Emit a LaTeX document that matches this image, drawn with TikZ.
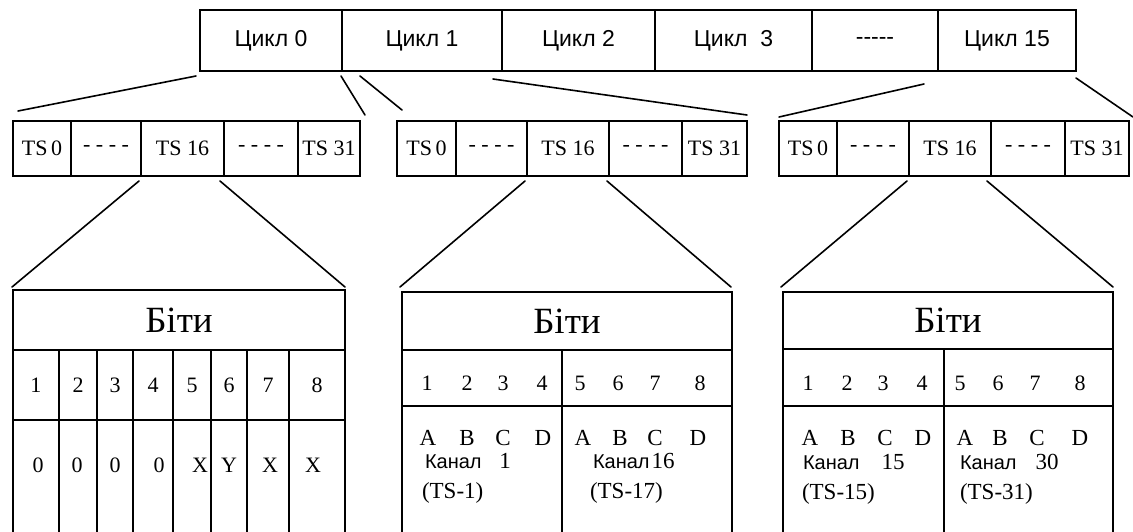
\documentclass[tikz,border=0pt]{standalone}
\usepackage{fontspec}
\setmainfont{Liberation Serif}
\setsansfont{Liberation Sans}
\usetikzlibrary{calc}
\begin{document}
\begin{tikzpicture}[x=1pt,y=-1pt,
  every node/.style={inner sep=0pt, outer sep=0pt},
  cell/.style={draw, line width=1.6pt, anchor=north west, align=center},
  conn/.style={line width=1.6pt, line cap=round},
  cyc/.style={font=\sffamily\fontsize{23}{26}\selectfont},
  ts/.style={font=\fontsize{22}{24}\selectfont},
  big/.style={font=\fontsize{37}{40}\selectfont},
  dig/.style={font=\fontsize{22}{24}\selectfont},
  lab/.style={font=\fontsize{23}{26}\selectfont},
  kan/.style={font=\sffamily\fontsize{20}{22}\selectfont},
  top/.style={cell, cyc, minimum height=61pt},
  mid/.style={cell, ts, minimum height=55pt},
]
\useasboundingbox (0,0) rectangle (1133,531);

% ---- top bar: cycles
\node[top, minimum width=142pt] (c0) at (200,10) {Цикл 0};
\node[top, minimum width=160pt] (c1) at (342,10) {Цикл 1};
\node[top, minimum width=153pt] (c2) at (502,10) {Цикл 2};
\node[top, minimum width=157pt] (c3) at (655,10) {Цикл\ \ 3};
\node[top, minimum width=126pt] (c4) at (812,10) {-{}-{}-{}-{}-};
\node[top, minimum width=138pt] (c5) at (938,10) {Цикл 15};

% ---- middle boxes: time slots
\node[mid, minimum width=58pt] (m1a) at (13,121) {TS\,0};
\node[mid, minimum width=70pt] (m1b) at (71,121) {- - - -};
\node[mid, minimum width=83pt] (m1c) at (141,121) {TS 16};
\node[mid, minimum width=74pt] (m1d) at (224,121) {- - - -};
\node[mid, minimum width=62pt] (m1e) at (298,121) {TS 31};

\node[mid, minimum width=59pt] (m2a) at (397,121) {TS\,0};
\node[mid, minimum width=71pt] (m2b) at (456,121) {- - - -};
\node[mid, minimum width=82pt] (m2c) at (527,121) {TS 16};
\node[mid, minimum width=73pt] (m2d) at (609,121) {- - - -};
\node[mid, minimum width=65pt] (m2e) at (682,121) {TS 31};

\node[mid, minimum width=58pt] (m3a) at (779,121) {TS\,0};
\node[mid, minimum width=72pt] (m3b) at (837,121) {- - - -};
\node[mid, minimum width=82pt] (m3c) at (909,121) {TS 16};
\node[mid, minimum width=74pt] (m3d) at (991,121) {- - - -};
\node[mid, minimum width=64pt] (m3e) at (1065,121) {TS 31};

% ---- connectors top -> middle
\draw[conn] ($(c0.south west)+(-4,5)$) -- ($(m1a.north west)+(5,-10)$);
\draw[conn] ($(c0.south east)+(-1,5)$) -- ($(m1e.north east)+(5,-6)$);
\draw[conn] ($(c1.south west)+(18,5)$) -- ($(m2a.north west)+(5,-11)$);
\draw[conn] ($(c1.south east)+(-9,8)$) -- ($(m2e.north east)+(0,-6)$);
\draw[conn] ($(c4.south east)+(-14,13)$) -- ($(m3a.north west)+(0,-4)$);
\draw[conn] ($(c5.south east)+(0,7)$) -- ($(m3e.north east)+(4,-4)$);

% ---- table 1
\node[cell, big, minimum width=332pt, minimum height=60pt] (t1h) at (13,290) {Біти};
\node[cell, dig, minimum width=46pt, minimum height=70pt] (t1d1) at (13,350) {1};
\node[cell, dig, minimum width=38pt, minimum height=70pt] (t1d2) at (59,350) {2};
\node[cell, dig, minimum width=36pt, minimum height=70pt] (t1d3) at (97,350) {3};
\node[cell, dig, minimum width=40pt, minimum height=70pt] (t1d4) at (133,350) {4};
\node[cell, dig, minimum width=38pt, minimum height=70pt] (t1d5) at (173,350) {5};
\node[cell, dig, minimum width=36pt, minimum height=70pt] (t1d6) at (211,350) {6};
\node[cell, dig, minimum width=42pt, minimum height=70pt] (t1d7) at (247,350) {7};
\node[cell, dig, minimum width=56pt, minimum height=70pt] (t1d8) at (289,350) {8};
\foreach \n in {t1d1,t1d2,t1d3,t1d4,t1d5,t1d6,t1d7,t1d8}
  \draw[conn, line cap=butt] (\n.south west) -- ++(0,112);
\draw[conn, line cap=butt] (t1d8.south east) -- ++(0,112);
\node[dig, anchor=base] (v1) at (38,472) {0};
\node[dig, anchor=base] (v2) at (77,472) {0};
\node[dig, anchor=base] (v3) at (115,472) {0};
\node[dig, anchor=base] (v4) at (159,472) {0};
\node[dig, anchor=base] (v5) at (200,472) {X};
\node[dig, anchor=base] (v6) at (229,472) {Y};
\node[dig, anchor=base] (v7) at (270,472) {X};
\node[dig, anchor=base] (v8) at (313,472) {X};

% ---- table 2
\node[cell, big, minimum width=330pt, minimum height=58pt] (t2h) at (402,292) {Біти};
\node[cell, minimum width=160pt, minimum height=56pt] (t2l) at (402,350) {};
\node[cell, minimum width=170pt, minimum height=56pt] (t2r) at (562,350) {};
\draw[conn, line cap=butt] (t2l.south west) -- ++(0,126);
\draw[conn, line cap=butt] (t2l.south east) -- ++(0,126);
\draw[conn, line cap=butt] (t2r.south east) -- ++(0,126);
\foreach \x/\t [count=\i] in {427/1,467/2,503/3,542/4,580/5,618/6,655/7,700/8}
  \node[dig, anchor=base] (t2n\i) at (\x,390) {\t};
\foreach \x/\t [count=\i] in {428/A,467/B,503/C,543/D,583/A,620/B,655/C,698/D}
  \node[lab, anchor=base] (t2s\i) at (\x,445) {\t};
\node[kan, anchor=base west] (t2k1) at (425,468) {Канал};
\node[lab, anchor=base] (t2k1n) at (505,468) {1};
\node[lab, anchor=base west] (t2p1) at (422,498) {(TS-1)};
\node[kan, anchor=base west] (t2k2) at (593,468) {Канал};
\node[lab, anchor=base] (t2k2n) at (663,468) {16};
\node[lab, anchor=base west] (t2p2) at (590,498) {(TS-17)};

% ---- table 3
\node[cell, big, minimum width=330pt, minimum height=57pt] (t3h) at (783,292) {Біти};
\node[cell, minimum width=161pt, minimum height=57pt] (t3l) at (783,349) {};
\node[cell, minimum width=169pt, minimum height=57pt] (t3r) at (944,349) {};
\draw[conn, line cap=butt] (t3l.south west) -- ++(0,126);
\draw[conn, line cap=butt] (t3l.south east) -- ++(0,126);
\draw[conn, line cap=butt] (t3r.south east) -- ++(0,126);
\foreach \x/\t [count=\i] in {808/1,847/2,883/3,922/4,960/5,998/6,1035/7,1080/8}
  \node[dig, anchor=base] (t3n\i) at (\x,390) {\t};
\foreach \x/\t [count=\i] in {810/A,848/B,885/C,923/D,965/A,1000/B,1037/C,1080/D}
  \node[lab, anchor=base] (t3s\i) at (\x,445) {\t};
\node[kan, anchor=base west] (t3k1) at (803,469) {Канал};
\node[lab, anchor=base] (t3k1n) at (893,469) {15};
\node[lab, anchor=base west] (t3p1) at (802,499) {(TS-15)};
\node[kan, anchor=base west] (t3k2) at (960,469) {Канал};
\node[lab, anchor=base] (t3k2n) at (1047,469) {30};
\node[lab, anchor=base west] (t3p2) at (960,499) {(TS-31)};

% ---- connectors middle -> tables
\draw[conn] ($(m1c.south west)+(-2,5)$) -- ($(t1h.north west)+(-1,-3)$);
\draw[conn] ($(m1c.south east)+(-4,5)$) -- ($(t1h.north east)+(0,-3)$);
\draw[conn] ($(m2c.south west)+(-2,5)$) -- ($(t2h.north west)+(-2,-5)$);
\draw[conn] ($(m2c.south east)+(-2,5)$) -- ($(t2h.north east)+(-1,-5)$);
\draw[conn] ($(m3c.south west)+(-2,5)$) -- ($(t3h.north west)+(-2,-5)$);
\draw[conn] ($(m3c.south east)+(-4,5)$) -- ($(t3h.north east)+(0,-5)$);
\end{tikzpicture}
\end{document}
